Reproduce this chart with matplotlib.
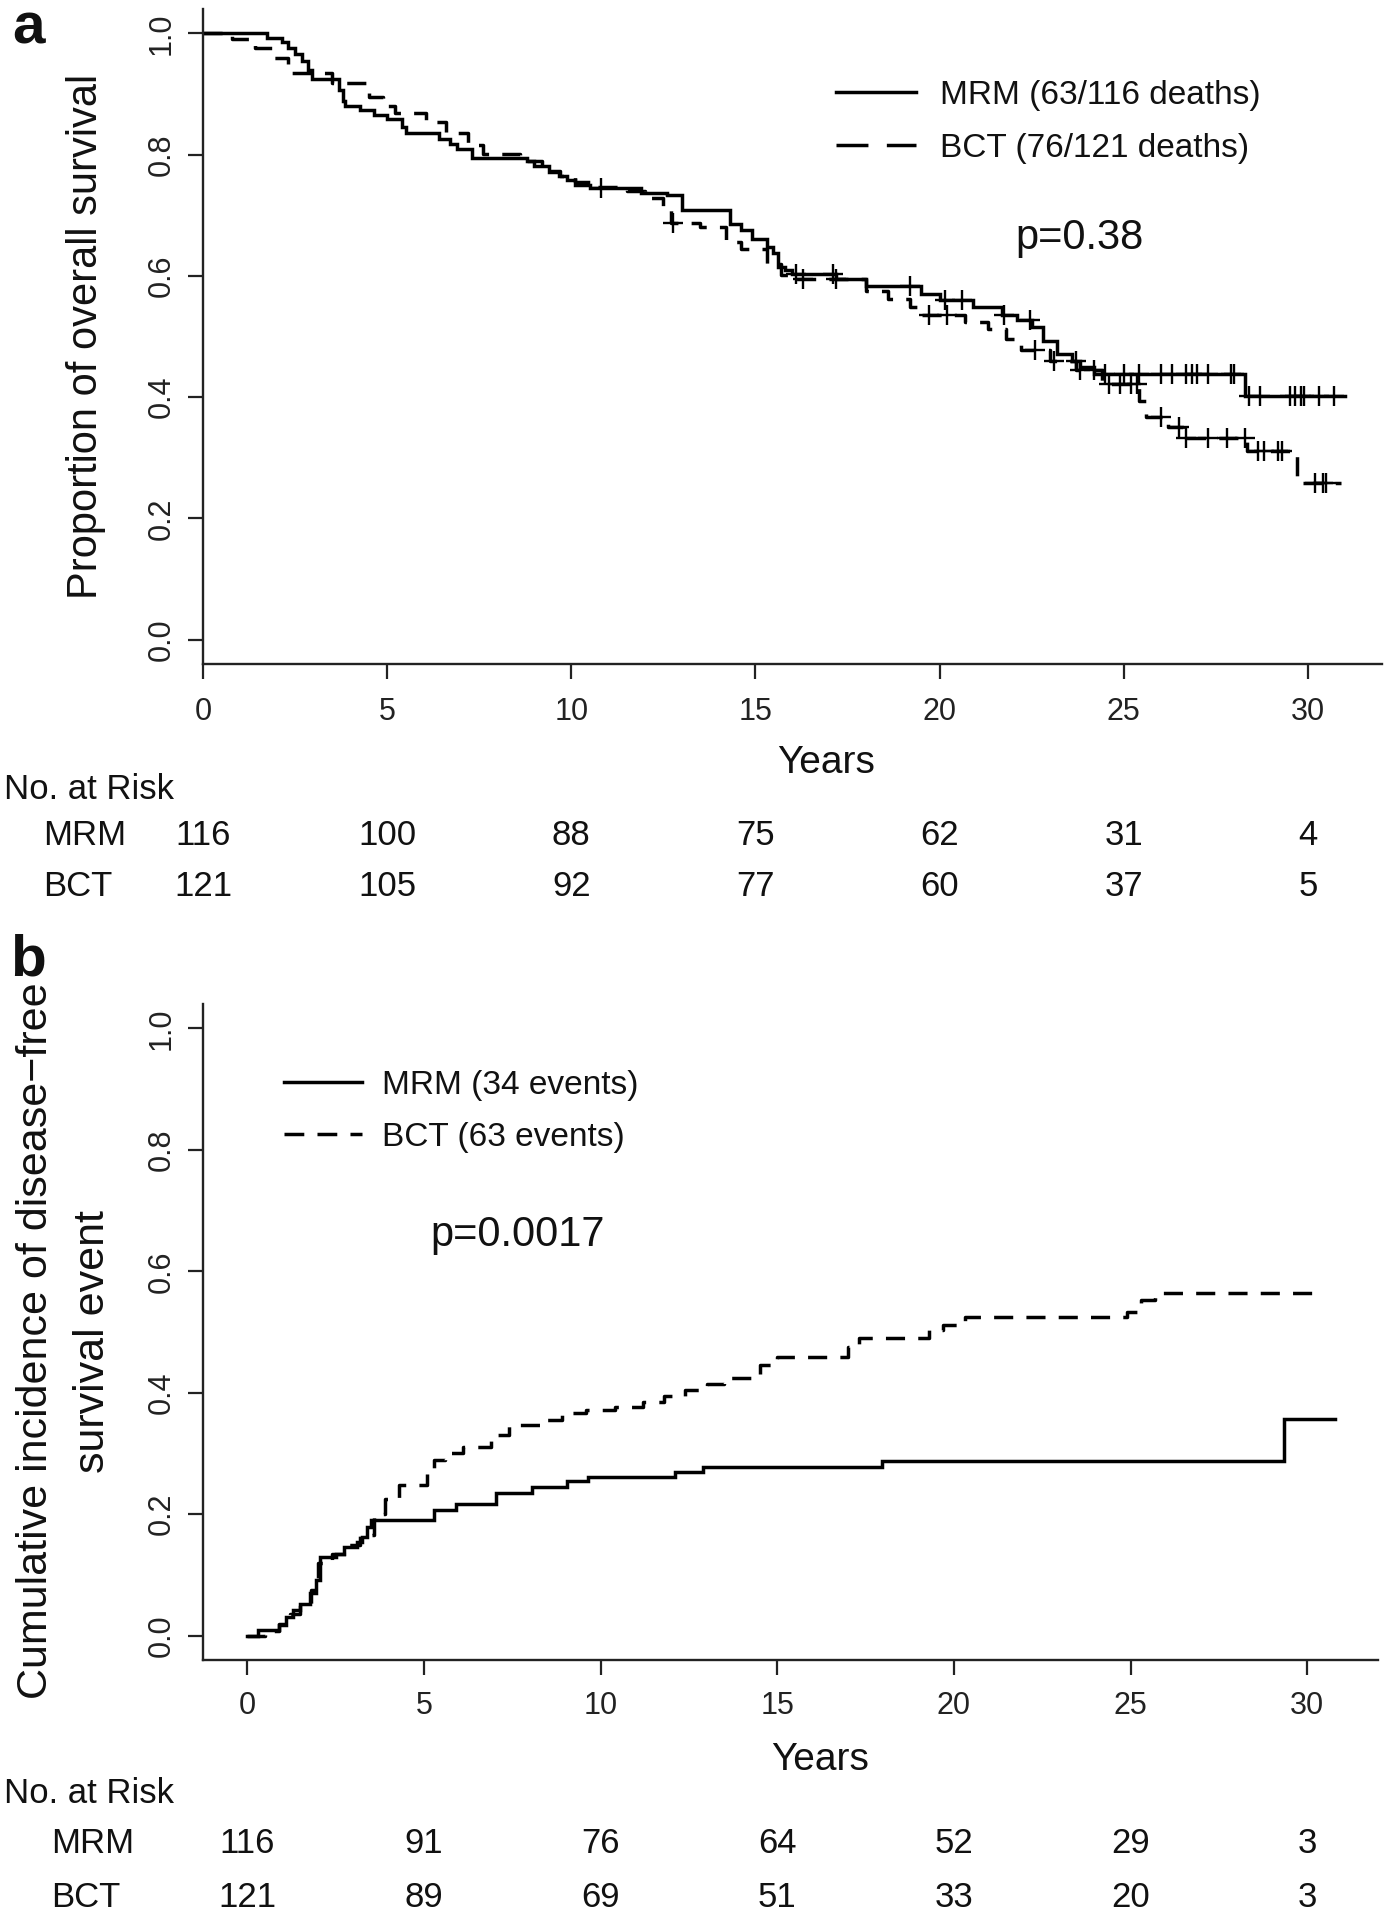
import numpy as np
import matplotlib
matplotlib.use("Agg")
import matplotlib.pyplot as plt
import matplotlib.transforms as mtransforms
from matplotlib.lines import Line2D

plt.rcParams['font.family'] = ['Liberation Sans', 'DejaVu Sans']

# ---------------- Panel a: overall survival (Kaplan-Meier) ----------------
os_mrm_time = [0, 1.75, 2.15, 2.3, 2.5, 2.7, 2.85, 2.95, 3.7, 3.8, 3.85, 4.25, 4.63, 5.0, 5.4, 5.5,
               6.4, 6.7, 6.9, 7.3, 8.8, 9.0, 9.4, 9.66, 9.87, 10.1, 10.5, 11.9, 12.6, 13.0, 14.3, 14.6,
               14.9, 15.3, 15.48, 15.6, 15.8, 16.0, 17.2, 18.0, 19.5, 20.0, 20.9, 21.7, 22.1, 22.5, 22.8, 23.2,
               23.6, 23.8, 24.2, 28.3]
os_mrm_surv = [1.0, 0.993, 0.985, 0.976, 0.965, 0.955, 0.94, 0.925, 0.907, 0.888, 0.880, 0.874, 0.866, 0.858, 0.846, 0.836,
               0.825, 0.817, 0.809, 0.794, 0.789, 0.781, 0.772, 0.764, 0.758, 0.750, 0.745, 0.736, 0.733, 0.709, 0.686, 0.675,
               0.661, 0.647, 0.637, 0.615, 0.609, 0.603, 0.595, 0.584, 0.570, 0.560, 0.549, 0.535, 0.527, 0.515, 0.493, 0.471,
               0.460, 0.449, 0.438, 0.402]
os_mrm_end = 31.0
os_mrm_cens = [10.8, 16.1, 17.1, 19.2, 20.15, 20.6, 21.75, 22.45, 23.7, 24.5, 25.0, 25.4, 26.0, 26.3, 26.7, 26.85,
               27.0, 27.3, 27.9, 28.0, 28.4, 28.7, 29.5, 29.65, 29.8, 29.9, 30.3, 30.7]

os_bct_time = [0, 0.8, 1.4, 1.9, 2.3, 3.5, 4.5, 4.9, 5.2, 6.05, 6.6, 7.2, 7.6, 8.6, 9.2, 9.7,
               10.1, 10.6, 11.5, 12.0, 12.5, 12.7, 13.5, 14.2, 14.6, 15.3, 15.7, 16.0, 18.0, 18.6, 19.2, 19.4,
               20.7, 21.3, 21.8, 22.2, 23.0, 23.7, 24.4, 25.4, 25.6, 26.2, 26.6, 28.35, 29.7]
os_bct_surv = [1.0, 0.990, 0.976, 0.960, 0.935, 0.918, 0.895, 0.880, 0.869, 0.853, 0.835, 0.815, 0.801, 0.790, 0.773, 0.765,
               0.755, 0.747, 0.740, 0.728, 0.714, 0.687, 0.681, 0.656, 0.645, 0.620, 0.601, 0.594, 0.575, 0.562, 0.548, 0.535,
               0.524, 0.513, 0.496, 0.477, 0.460, 0.444, 0.422, 0.394, 0.367, 0.350, 0.333, 0.311, 0.259]
os_bct_end = 30.9
os_bct_cens = [12.75, 16.3, 17.2, 19.7, 20.2, 22.6, 23.1, 23.8, 24.2, 24.6, 24.9, 25.2, 25.35, 26.0, 26.5, 26.7,
               27.3, 27.8, 28.3, 28.65, 28.8, 29.2, 29.3, 30.2, 30.4, 30.5]

# ---------------- Panel b: cumulative incidence of DFS event ----------------
dfs_mrm_time = [0, 0.3, 0.9, 1.1, 1.3, 1.5, 1.77, 1.96, 2.05, 2.5, 2.75, 3.1, 3.25, 3.4, 3.5, 5.3,
                5.9, 7.05, 8.05, 9.05, 9.65, 12.1, 12.9, 17.95, 29.35]
dfs_mrm_cum = [0, 0.009, 0.017, 0.031, 0.042, 0.053, 0.070, 0.092, 0.130, 0.135, 0.146, 0.155, 0.163, 0.179, 0.190, 0.207,
               0.217, 0.235, 0.244, 0.255, 0.262, 0.270, 0.278, 0.287, 0.356]
dfs_mrm_end = 30.78

dfs_bct_time = [0, 0.5, 0.9, 1.2, 1.5, 1.8, 2.0, 2.4, 2.8, 3.2, 3.6, 3.9, 4.3, 5.1, 5.3, 5.6,
                6.1, 6.9, 7.4, 8.4, 8.9, 9.6, 10.4, 11.2, 11.8, 12.4, 13.0, 13.5, 14.5, 15.0, 17.0, 17.3,
                19.3, 19.7, 20.3, 24.9, 25.3, 25.7]
dfs_bct_cum = [0, 0.008, 0.02, 0.035, 0.05, 0.075, 0.12, 0.135, 0.15, 0.165, 0.2, 0.225, 0.248, 0.273, 0.29, 0.30,
               0.311, 0.33, 0.347, 0.355, 0.366, 0.372, 0.377, 0.385, 0.395, 0.405, 0.415, 0.425, 0.445, 0.459, 0.476, 0.49,
               0.503, 0.512, 0.525, 0.533, 0.552, 0.564]
dfs_bct_end = 30.4

# ---------------- Risk tables ----------------
risk_times = [0, 5, 10, 15, 20, 25, 30]
risk_a_mrm = [116, 100, 88, 75, 62, 31, 4]
risk_a_bct = [121, 105, 92, 77, 60, 37, 5]
risk_b_mrm = [116, 91, 76, 64, 52, 29, 3]
risk_b_bct = [121, 89, 69, 51, 33, 20, 3]

group_labels = ["MRM", "BCT"]
legend_a = ["MRM (63/116 deaths)", "BCT (76/121 deaths)"]
legend_b = ["MRM (34 events)", "BCT (63 events)"]

W, H = 1392, 1920
fig = plt.figure(figsize=(W / 100, H / 100), dpi=100)
fig.patch.set_facecolor("white")

LW = 2.5
DASH_CURVE = (0, (5.5, 3.8))
TXT = "#111111"


def px_axes(left, top, right, bottom):
    return [left / W, 1 - bottom / H, (right - left) / W, (bottom - top) / H]


def step(ax, t, v, end, ls):
    t = np.append(np.asarray(t, float), end)
    v = np.append(np.asarray(v, float), v[-1])
    ax.step(t, v, where="post", color="black", lw=LW, linestyle=ls,
            solid_joinstyle="miter", dash_capstyle="butt")


def censor(ax, t, v, cens):
    t = np.asarray(t, float)
    v = np.asarray(v, float)
    c = np.asarray(cens, float)
    idx = np.searchsorted(t, c, side="right") - 1
    ax.plot(c, v[idx], linestyle="none", marker="+", ms=14.5, mew=1.7, color="black")


def style_axes(ax, xpad):
    for s in ["top", "right"]:
        ax.spines[s].set_visible(False)
    for s in ["left", "bottom"]:
        ax.spines[s].set_linewidth(1.7)
        ax.spines[s].set_color("#222222")
    ax.set_xticks(risk_times)
    ax.set_yticks([0.0, 0.2, 0.4, 0.6, 0.8, 1.0])
    ax.set_yticklabels(["0.0", "0.2", "0.4", "0.6", "0.8", "1.0"])
    ax.tick_params(axis="both", direction="out", length=11, width=1.6, colors="#222222",
                   labelsize=22, labelcolor="#222222")
    ax.tick_params(axis="x", pad=xpad)
    ax.tick_params(axis="y", pad=8, labelrotation=90)
    for lab in ax.get_yticklabels():
        lab.set_va("center")
    ax.set_ylim(-0.04, 1.04)


# ---------------- Panel a ----------------
ax_a = fig.add_axes(px_axes(203, 9, 1381.6, 664))
step(ax_a, os_mrm_time, os_mrm_surv, os_mrm_end, "-")
step(ax_a, os_bct_time, os_bct_surv, os_bct_end, DASH_CURVE)
censor(ax_a, os_mrm_time, os_mrm_surv, os_mrm_cens)
censor(ax_a, os_bct_time, os_bct_surv, os_bct_cens)
ax_a.set_xlim(0, 32)
style_axes(ax_a, 12.5)

h_a = [Line2D([], [], color="black", lw=LW, linestyle="-"),
       Line2D([], [], color="black", lw=LW, linestyle=(0, (9.2, 5.3)), dash_capstyle="butt")]
leg = ax_a.legend(h_a, legend_a, loc="upper left", bbox_to_anchor=(0.537, 0.892),
                  frameon=False, fontsize=24, handlelength=2.4, handletextpad=0.72,
                  labelspacing=0.67, borderpad=0, borderaxespad=0)
for t in leg.get_texts():
    t.set_color(TXT)

ax_a.text(0.744, 0.634, "p=0.38", transform=ax_a.transAxes, ha="center", va="baseline",
          fontsize=30, color=TXT)
ax_a.text(-0.0993, 0.5, "Proportion of overall survival", transform=ax_a.transAxes,
          rotation=90, ha="center", va="center", fontsize=30, color=TXT)
ax_a.text((826 - 203) / 1178.6, -(773 - 664) / 655, "Years", transform=ax_a.transAxes,
          ha="center", va="baseline", fontsize=28, color=TXT)

# ---------------- Panel b ----------------
ax_b = fig.add_axes(px_axes(203.2, 1004, 1378, 1660))
step(ax_b, dfs_mrm_time, dfs_mrm_cum, dfs_mrm_end, "-")
step(ax_b, dfs_bct_time, dfs_bct_cum, dfs_bct_end, DASH_CURVE)
ax_b.set_xlim(-1.245, 32.0)
style_axes(ax_b, 11.5)

h_b = [Line2D([], [], color="black", lw=LW, linestyle="-"),
       Line2D([], [], color="black", lw=LW, linestyle=(0, (5.7, 3.8)), dash_capstyle="butt")]
leg = ax_b.legend(h_b, legend_b, loc="upper left", bbox_to_anchor=(0.0688, 0.900),
                  frameon=False, fontsize=24, handlelength=2.34, handletextpad=0.6,
                  labelspacing=0.64, borderpad=0, borderaxespad=0)
for t in leg.get_texts():
    t.set_color(TXT)

ax_b.text(0.268, 0.631, "p=0.0017", transform=ax_b.transAxes, ha="center", va="baseline",
          fontsize=30, color=TXT)
ax_b.text(-0.1425, 0.486, "Cumulative incidence of disease\u2212free", transform=ax_b.transAxes,
          rotation=90, ha="center", va="center", fontsize=31, color=TXT)
ax_b.text(-0.0938, 0.486, "survival event", transform=ax_b.transAxes,
          rotation=90, ha="center", va="center", fontsize=31, color=TXT)
ax_b.text((820 - 203.2) / 1174.8, -(1770 - 1660) / 656, "Years", transform=ax_b.transAxes,
          ha="center", va="baseline", fontsize=28, color=TXT)

# ---------------- Risk tables ----------------
def risk_table(ax, head_y, rows_y, label_x, rows):
    tr = mtransforms.blended_transform_factory(ax.transData, fig.transFigure)
    fig.text(4 / W, 1 - head_y / H, "No. at Risk", ha="left", va="baseline", fontsize=25, color=TXT)
    for (lab, vals), yy in zip(rows, rows_y):
        fig.text(label_x / W, 1 - yy / H, lab, ha="left", va="baseline", fontsize=25, color=TXT)
        for tt, n in zip(risk_times, vals):
            ax.text(tt, 1 - yy / H, str(n), transform=tr, ha="center", va="baseline",
                    fontsize=25, color=TXT)


risk_table(ax_a, 799, [845, 896], 43, [(group_labels[0], risk_a_mrm), (group_labels[1], risk_a_bct)])
risk_table(ax_b, 1803, [1853, 1907], 51, [(group_labels[0], risk_b_mrm), (group_labels[1], risk_b_bct)])

# panel letters
fig.text(12 / W, 1 - 43 / H, "a", ha="left", va="baseline", fontsize=42, fontweight="bold", color=TXT)
fig.text(10 / W, 1 - 976 / H, "b", ha="left", va="baseline", fontsize=42, fontweight="bold", color=TXT)

fig.savefig("out.png", dpi=100, facecolor="white")
